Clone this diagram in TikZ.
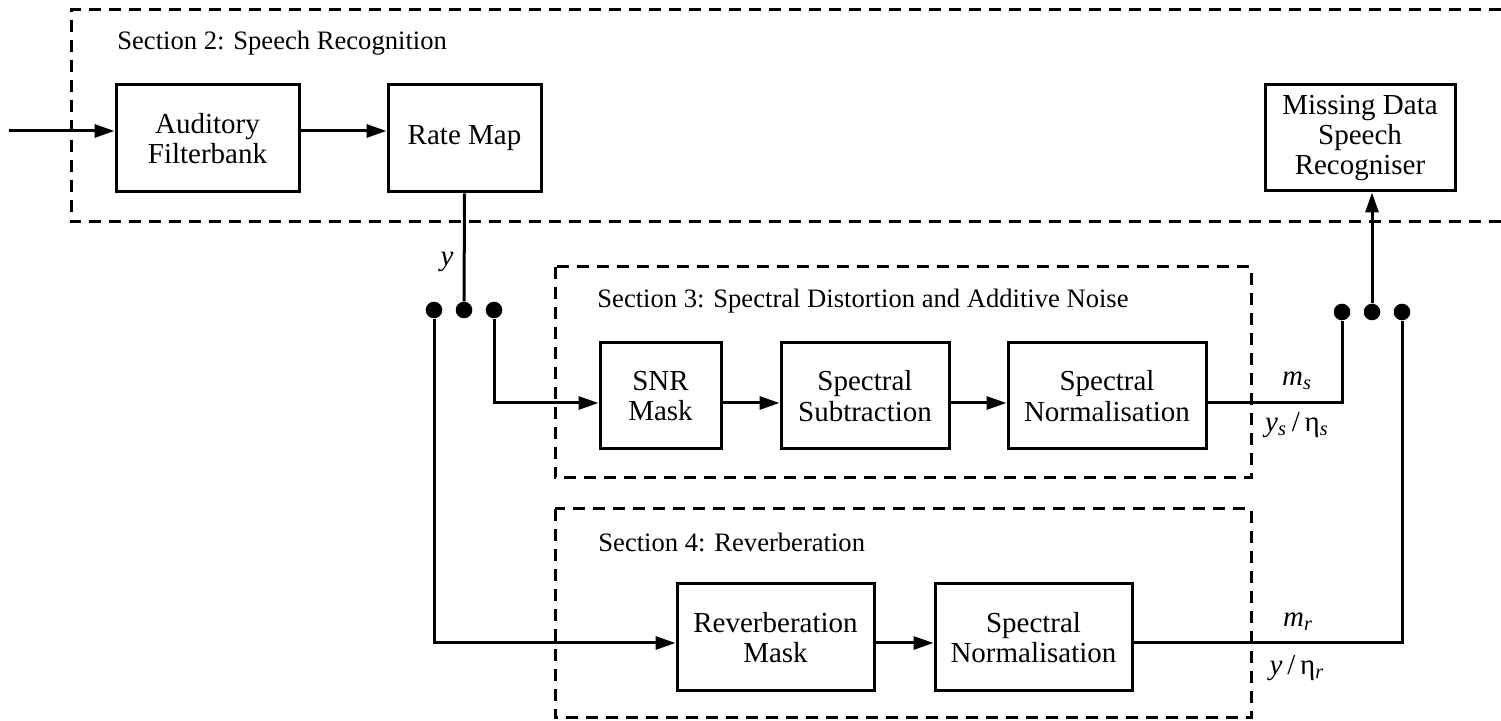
\documentclass[tikz,border=0pt]{standalone}
\usepackage{fontspec}
\setmainfont{Liberation Serif}
\usetikzlibrary{arrows.meta}

\tikzset{
  blk/.style={draw, line width=1.5pt, inner sep=0pt, align=center,
    minimum height=53.5pt, font=\fontsize{14.5}{15.2}\selectfont},
  secbox/.style={line width=1.5pt, dash pattern=on 6pt off 4pt},
  arr/.style={line width=1.5pt, -{Triangle[length=10pt,width=6.5pt]}},
  wire/.style={line width=1.5pt},
  dot/.style={circle, fill, inner sep=0pt, minimum size=8.3pt},
  seclabel/.style={anchor=base west, inner sep=0pt, font=\fontsize{13.3}{15}\selectfont},
  sig/.style={inner sep=0pt, font=\fontsize{14.5}{16}\selectfont}
}

\begin{document}
\begin{tikzpicture}[x=0.5pt,y=-0.5pt]

  \useasboundingbox (0,0) rectangle (1501,721);

  % dashed sections
  \draw[secbox] (1501,10) -| (71,222) -- (1501,222);
  \draw[secbox] (555,267) rectangle (1251,478);
  \draw[secbox] (555,509) rectangle (1251,718);

  \node[seclabel] (sec2) at (117,50) {Section 2: Speech Recognition};
  \node[seclabel] (sec3) at (597,308) {Section 3: Spectral Distortion and Additive Noise};
  \node[seclabel] (sec4) at (598,552) {Section 4: Reverberation};

  % blocks
  \node[blk, minimum width=91.5pt] (aud) at (207.5,138.5) {Auditory\\Filterbank};
  \node[blk, minimum width=76.5pt] (rate) at (464.5,138.5) {Rate Map};
  \node[blk, minimum width=95pt, minimum height=53pt] (mdr) at (1360,138) {Missing Data\\Speech\\Recogniser};

  \node[blk, minimum width=60.5pt, minimum height=53pt] (snr) at (660.5,396) {SNR\\Mask};
  \node[blk, minimum width=84pt, minimum height=53pt] (sub) at (865,396) {Spectral\\Subtraction};
  \node[blk, minimum width=99pt, minimum height=53pt] (norms) at (1107,396) {Spectral\\Normalisation};

  \node[blk, minimum width=98.5pt] (rev) at (775.5,637.5) {Reverberation\\Mask};
  \node[blk, minimum width=98.5pt] (normr) at (1033.5,637.5) {Spectral\\Normalisation};

  % switches
  \node[dot] (ya) at (434,310) {};
  \node[dot] (yb) at (464,310) {};
  \node[dot] (yc) at (494,310) {};
  \node[dot] (oa) at (1342,312) {};
  \node[dot] (ob) at (1372,312) {};
  \node[dot] (oc) at (1402,312) {};

  \coordinate (in) at (9,131);

  \draw[arr] (in) -- ([yshift=3.75pt]aud.west);
  \draw[arr] ([yshift=3.75pt]aud.east) -- ([yshift=3.75pt]rate.west);
  \draw[wire] (rate.south) -- (yb);

  \draw[arr] (yc) |- ([yshift=-3.5pt]snr.west);
  \draw[arr] ([yshift=-3.5pt]snr.east) -- ([yshift=-3.5pt]sub.west);
  \draw[arr] ([yshift=-3.5pt]sub.east) -- ([yshift=-3.5pt]norms.west);
  \draw[wire] ([yshift=-3.5pt]norms.east) -| (oa);

  \draw[arr] (ya) |- ([yshift=-2.75pt]rev.west);
  \draw[arr] ([yshift=-2.75pt]rev.east) -- ([yshift=-2.75pt]normr.west);
  \draw[wire] ([yshift=-2.75pt]normr.east) -| (oc);

  \draw[arr] (ob) -- (ob |- mdr.south);

  % signal labels
  \node[sig] (ylab) at (447,262) {\textit{y}};
  \node[sig] (ms) at (1297,381) {\textit{m}\textsubscript{\textit{s}}};
  \node[sig] (ys) at (1297,425) {\textit{y}\textsubscript{\textit{s}}\,/\,η\textsubscript{\textit{s}}};
  \node[sig] (mr) at (1298,622) {\textit{m}\textsubscript{\textit{r}}};
  \node[sig] (yr) at (1297,668) {\textit{y}\,/\,η\textsubscript{\textit{r}}};

\end{tikzpicture}
\end{document}
